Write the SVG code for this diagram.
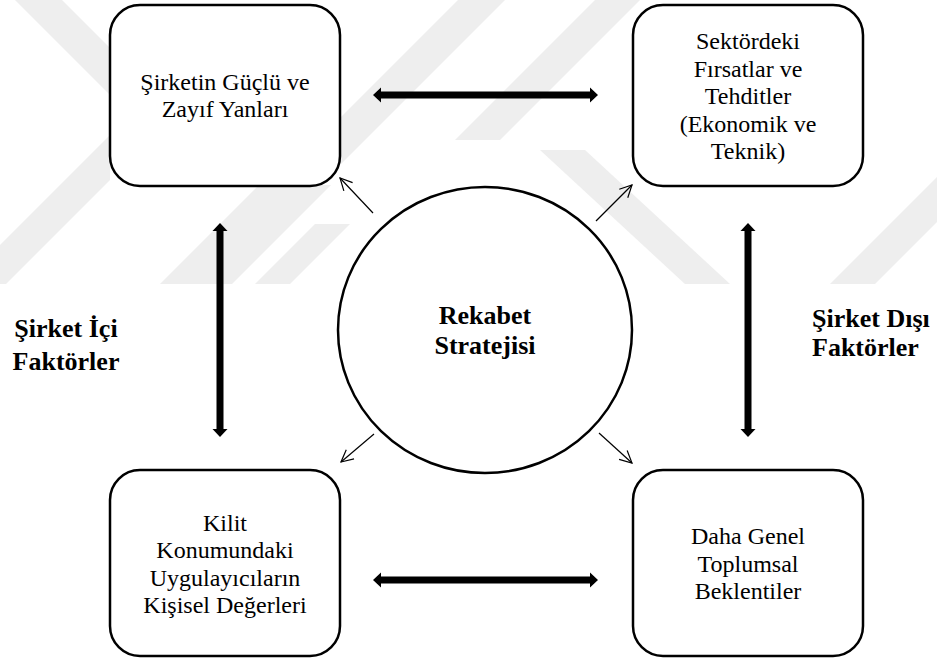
<svg xmlns="http://www.w3.org/2000/svg" width="937" height="661" viewBox="0 0 937 661">
  <style>
    .box { fill: #ffffff; stroke: #000000; stroke-width: 2.5; }
    .txt { font-family: 'Liberation Serif', Tinos, 'Nimbus Roman', 'Nimbus Roman No9 L', FreeSerif, 'DejaVu Serif', 'Noto Serif', 'Noto Serif CJK SC', 'Times New Roman', Times, serif; font-size: 24px; fill: #000000; text-anchor: middle; }
    .lbl { font-family: 'Liberation Serif', Tinos, 'Nimbus Roman', 'Nimbus Roman No9 L', FreeSerif, 'DejaVu Serif', 'Noto Serif', 'Noto Serif CJK SC', 'Times New Roman', Times, serif; font-size: 26px; font-weight: bold; fill: #000000; }
    .wm { fill: #eeeeee; }
    .thin { stroke: #000000; stroke-width: 1.2; fill: none; }
    .thick { fill: #000000; }
  </style>
  <defs>
    <marker id="open" viewBox="0 0 14 14" refX="13" refY="7" markerWidth="14" markerHeight="14" markerUnits="userSpaceOnUse" orient="auto">
      <path d="M1,1 L13,7 L1,13" fill="none" stroke="#000000" stroke-width="1.2"/>
    </marker>
    <clipPath id="wmclip">
      <rect x="0" y="0" width="937" height="284"/>
    </clipPath>
  </defs>

  <rect x="0" y="0" width="937" height="661" fill="#ffffff"/>

  <!-- faint background stripes -->
  <g id="watermark" clip-path="url(#wmclip)">
    <polygon class="wm" points="15,0 62,0 160,98 113,98"/>
    <polygon class="wm" points="0,245 110,135 110,180 0,290"/>
    <polygon class="wm" points="160,284 232,284 331,185 259,185"/>
    <polygon class="wm" points="255,284 290,284 350,224 315,224"/>
    <polygon class="wm" points="340,118 458,0 505,0 340,165"/>
    <polygon class="wm" points="455,140 595,0 640,0 500,140"/>
    <polygon class="wm" points="540,150 585,150 730,284 685,284"/>
    <polygon class="wm" points="830,284 875,284 937,222 937,177"/>
  </g>

  <!-- connectors -->
  <g id="connectors">
    <!-- top horizontal double arrow -->
    <path class="thick" d="M373,95 L381,87.5 L381,91.5 L590,91.5 L590,87.5 L598,95 L590,102.5 L590,98.5 L381,98.5 L381,102.5 Z"/>
    <!-- bottom horizontal double arrow -->
    <path class="thick" d="M373,580 L381,572.5 L381,576.5 L590,576.5 L590,572.5 L598,580 L590,587.5 L590,583.5 L381,583.5 L381,587.5 Z"/>
    <!-- left vertical double arrow -->
    <path class="thick" d="M220,223 L227.5,231 L223.5,231 L223.5,429 L227.5,429 L220,437 L212.5,429 L216.5,429 L216.5,231 L212.5,231 Z"/>
    <!-- right vertical double arrow -->
    <path class="thick" d="M748,223 L755.5,231 L751.5,231 L751.5,429 L755.5,429 L748,437 L740.5,429 L744.5,429 L744.5,231 L740.5,231 Z"/>
    <!-- thin arrows from the centre -->
    <line class="thin" x1="373" y1="213" x2="340" y2="178" marker-end="url(#open)"/>
    <line class="thin" x1="596" y1="221" x2="632" y2="185" marker-end="url(#open)"/>
    <line class="thin" x1="374" y1="434" x2="341" y2="462" marker-end="url(#open)"/>
    <line class="thin" x1="599" y1="433" x2="632" y2="463" marker-end="url(#open)"/>
  </g>

  <g id="node-guclu-zayif">
    <rect class="box" x="110" y="5" width="230" height="181" rx="30" ry="30"/>
    <text class="txt" x="225" y="90">Şirketin Güçlü ve</text>
    <text class="txt" x="225" y="117">Zayıf Yanları</text>
  </g>

  <g id="node-firsat-tehdit">
    <rect class="box" x="633" y="5" width="230" height="181" rx="30" ry="30"/>
    <text class="txt" x="748" y="49">Sektördeki</text>
    <text class="txt" x="748" y="77">Fırsatlar ve</text>
    <text class="txt" x="748" y="104">Tehditler</text>
    <text class="txt" x="748" y="132">(Ekonomik ve</text>
    <text class="txt" x="748" y="159">Teknik)</text>
  </g>

  <g id="node-kisisel-degerler">
    <rect class="box" x="110" y="470" width="230" height="186" rx="30" ry="30"/>
    <text class="txt" x="225" y="531">Kilit</text>
    <text class="txt" x="225" y="558">Konumundaki</text>
    <text class="txt" x="225" y="586">Uygulayıcıların</text>
    <text class="txt" x="225" y="613">Kişisel Değerleri</text>
  </g>

  <g id="node-toplumsal-beklentiler">
    <rect class="box" x="633" y="470" width="230" height="186" rx="30" ry="30"/>
    <text class="txt" x="748" y="544">Daha Genel</text>
    <text class="txt" x="748" y="572">Toplumsal</text>
    <text class="txt" x="748" y="599">Beklentiler</text>
  </g>

  <g id="node-rekabet-stratejisi">
    <ellipse class="box" cx="485" cy="330" rx="147" ry="143"/>
    <text class="lbl" x="485" y="324" text-anchor="middle">Rekabet</text>
    <text class="lbl" x="485" y="354" text-anchor="middle">Stratejisi</text>
  </g>

  <g id="label-ic">
    <text class="lbl" x="66" y="337" text-anchor="middle">Şirket İçi</text>
    <text class="lbl" x="66" y="370" text-anchor="middle">Faktörler</text>
  </g>

  <g id="label-dis">
    <text class="lbl" x="812" y="327">Şirket Dışı</text>
    <text class="lbl" x="812" y="356">Faktörler</text>
  </g>
</svg>
